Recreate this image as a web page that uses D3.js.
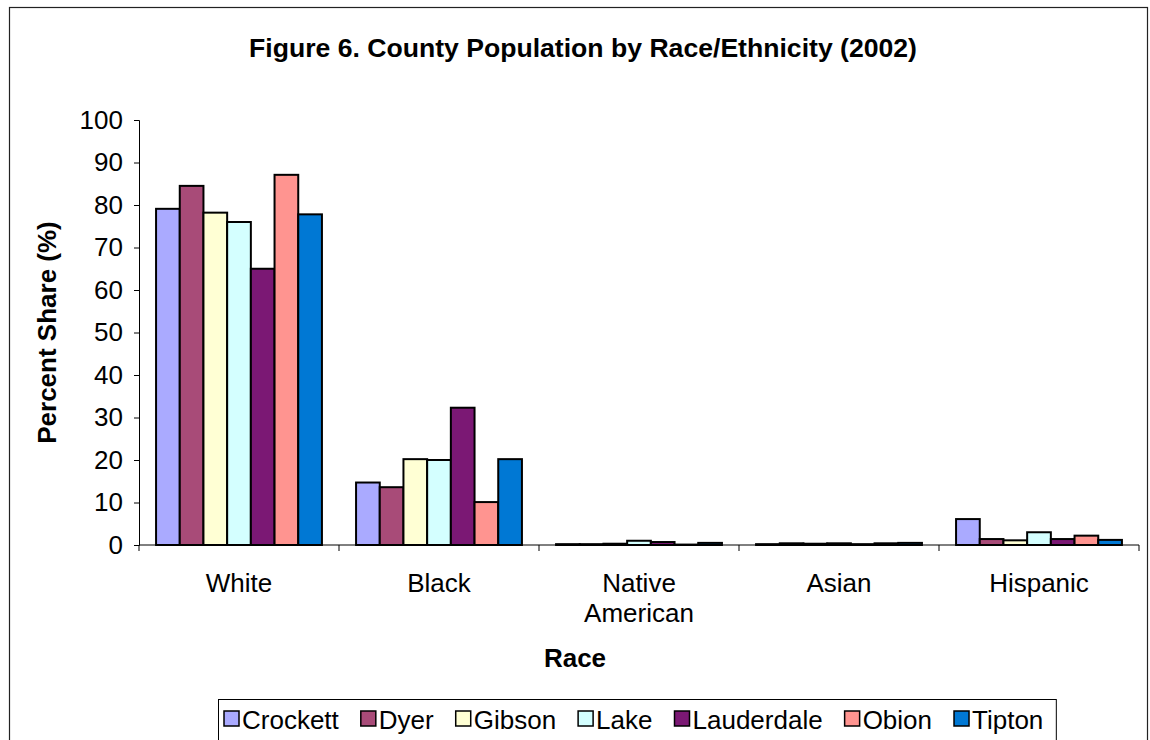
<!DOCTYPE html>
<html>
<head>
<meta charset="utf-8">
<script src="https://cdn.jsdelivr.net/npm/d3@7"></script>
<style>
  html, body { margin: 0; padding: 0; background: #fff; }
  svg { display: block; font-family: "Liberation Sans", Arial, sans-serif; }
</style>
</head>
<body>
<svg id="chart" width="1150" height="740"></svg>
<script>
// Race / ethnicity categories along the x axis
const categories = ["White", "Black", "Native American", "Asian", "Hispanic"];
// Counties (one bar per county in every category)
const counties = ["Crockett", "Dyer", "Gibson", "Lake", "Lauderdale", "Obion", "Tipton"];
const countyColors = ["#aaaaff", "#a84b78", "#ffffd4", "#d4ffff", "#7b1874", "#ff9490", "#0078d4"];

// Percent share per county, in category order
const crockett   = [79.1, 14.7, 0.2, 0.2, 6.1];
const dyer       = [84.5, 13.6, 0.2, 0.4, 1.4];
const gibson     = [78.2, 20.2, 0.3, 0.3, 1.1];
const lake       = [76.0, 20.0, 1.0, 0.4, 3.0];
const lauderdale = [65.0, 32.3, 0.7, 0.2, 1.4];
const obion      = [87.1, 10.1, 0.1, 0.4, 2.2];
const tipton     = [77.8, 20.2, 0.5, 0.5, 1.2];
const seriesValues = [crockett, dyer, gibson, lake, lauderdale, obion, tipton];

const yTicks = [0, 10, 20, 30, 40, 50, 60, 70, 80, 90, 100];

const FONT = 26;

const svg = d3.select("#chart");

// Outer chart frame
svg.append("rect")
  .attr("x", 9.5).attr("y", 7.5)
  .attr("width", 1138).attr("height", 745)
  .attr("fill", "#fff").attr("stroke", "#222").attr("stroke-width", 1.2);

const plot = { left: 139, right: 1139, top: 120, bottom: 545 };

const x0 = d3.scaleBand()
  .domain(categories)
  .range([plot.left, plot.right])
  .paddingInner(0).paddingOuter(0);

const x1 = d3.scaleBand()
  .domain(counties)
  .range([0, x0.bandwidth()])
  .paddingOuter(0.72).paddingInner(0);

const y = d3.scaleLinear().domain([0, 100]).range([plot.bottom, plot.top]);

const color = d3.scaleOrdinal().domain(counties).range(countyColors);

// Title
svg.append("text")
  .attr("x", 583).attr("y", 57)
  .attr("text-anchor", "middle")
  .attr("font-size", 26.6).attr("font-weight", "bold")
  .text("Figure 6. County Population by Race/Ethnicity (2002)");

// Bars
const rows = [];
counties.forEach((c, i) => {
  categories.forEach((cat, j) => rows.push({ county: c, category: cat, value: seriesValues[i][j] }));
});

svg.append("g").selectAll("rect")
  .data(rows)
  .join("rect")
  .attr("x", d => x0(d.category) + x1(d.county))
  .attr("y", d => y(d.value))
  .attr("width", x1.bandwidth())
  .attr("height", d => y(0) - y(d.value))
  .attr("fill", d => color(d.county))
  .attr("stroke", "#000")
  .attr("stroke-width", 2);

// Y axis
const yAxis = d3.axisLeft(y).tickValues(yTicks).tickSize(5).tickPadding(11);
const gy = svg.append("g")
  .attr("transform", `translate(${plot.left},0)`)
  .call(yAxis);
gy.select(".domain").attr("stroke", "#000");
gy.selectAll(".tick line").attr("stroke", "#000");
gy.selectAll(".tick text")
  .attr("font-size", FONT).attr("fill", "#000")
  .attr("font-family", "Liberation Sans, Arial, sans-serif");

// X axis: baseline with ticks between categories
const gx = svg.append("g").attr("transform", `translate(0,${plot.bottom})`);
gx.append("line")
  .attr("x1", plot.left).attr("x2", plot.right)
  .attr("stroke", "#000").attr("stroke-width", 1);
gx.selectAll("line.sep")
  .data(categories.map(c => x0(c)).concat([plot.right]))
  .join("line")
  .attr("class", "sep")
  .attr("x1", d => d).attr("x2", d => d)
  .attr("y1", 0).attr("y2", 6)
  .attr("stroke", "#000");

gx.selectAll("text.cat")
  .data(categories)
  .join("text")
  .attr("class", "cat")
  .attr("text-anchor", "middle")
  .attr("font-size", FONT)
  .attr("x", d => x0(d) + x0.bandwidth() / 2)
  .attr("y", 47)
  .each(function (d) {
    const words = d.split(" ");
    const t = d3.select(this);
    words.forEach((w, k) => {
      t.append("tspan")
        .attr("x", x0(d) + x0.bandwidth() / 2)
        .attr("dy", k === 0 ? 0 : 30)
        .text(w);
    });
  });

// Axis titles
svg.append("text")
  .attr("x", 575).attr("y", 667)
  .attr("text-anchor", "middle")
  .attr("font-size", FONT).attr("font-weight", "bold")
  .text("Race");

svg.append("text")
  .attr("transform", `translate(56,${(plot.top + plot.bottom) / 2}) rotate(-90)`)
  .attr("text-anchor", "middle")
  .attr("font-size", FONT).attr("font-weight", "bold")
  .text("Percent Share (%)");

// Legend
const legend = svg.append("g");
const legendBox = legend.append("rect")
  .attr("x", 218.5).attr("y", 699.5)
  .attr("height", 45)
  .attr("fill", "#fff").attr("stroke", "#000").attr("stroke-width", 1);

let lx = 224;
counties.forEach((c, i) => {
  legend.append("rect")
    .attr("x", lx).attr("y", 711)
    .attr("width", 15).attr("height", 15)
    .attr("fill", countyColors[i])
    .attr("stroke", "#000").attr("stroke-width", 1.5);
  const t = legend.append("text")
    .attr("x", lx + 18).attr("y", 729)
    .attr("font-size", FONT)
    .text(c);
  lx += 18 + t.node().getComputedTextLength() + 22;
});
legendBox.attr("width", lx - 218.5 - 9);
</script>
</body>
</html>
